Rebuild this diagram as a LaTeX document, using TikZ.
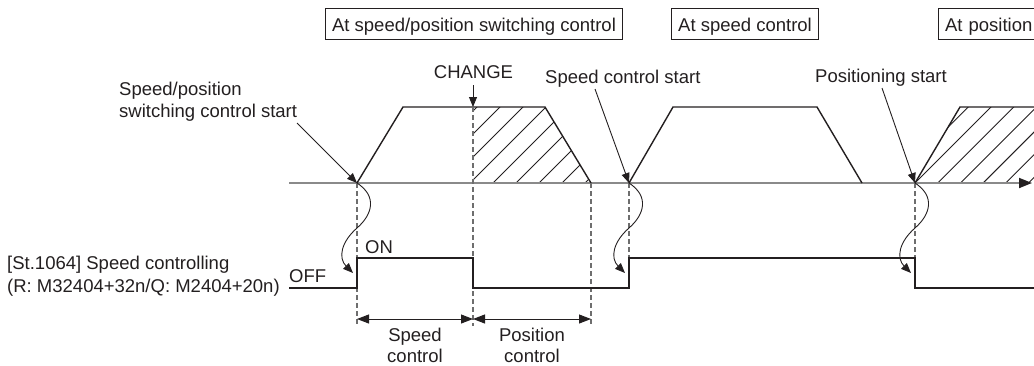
\documentclass[tikz,border=0pt]{standalone}
\usepackage{fontspec}
\setmainfont{Liberation Sans}
\usetikzlibrary{arrows.meta}
\definecolor{ink}{HTML}{231F20}
\definecolor{axisgray}{HTML}{8A8A8A}
\definecolor{dashgray}{HTML}{6E6E6E}
\begin{document}
\begin{tikzpicture}[x=1pt,y=-1pt,
  font=\fontsize{18.5}{22}\selectfont,
  lbl/.style={inner sep=0pt, text=ink, anchor=base west},
  lblc/.style={inner sep=0pt, text=ink, anchor=base},
  ctrlbox/.style={draw=ink, line width=1pt, text=ink, inner xsep=6.5pt, inner ysep=0pt,
    text height=23.7pt, text depth=7.3pt},
  wave/.style={draw=ink, line width=1.4pt, line join=miter},
  hatchline/.style={draw=ink, line width=0.9pt},
  guide/.style={draw=dashgray, line width=1.2pt, dash pattern=on 5pt off 3pt},
  axisline/.style={draw=axisgray, line width=1.8pt, -{Triangle[length=13pt,width=10pt,color=ink]}},
  pointer/.style={draw=ink, line width=0.9pt, -{Triangle[length=10pt,width=8pt]}},
  dimarrow/.style={draw=ink, line width=1pt, {Triangle[length=12pt,width=9pt]}-{Triangle[length=12pt,width=9pt]}}
]
\useasboundingbox (0,0) rectangle (1034,365);
\clip (0,0) rectangle (1034,365);

% header boxes
\node[ctrlbox, anchor=base] (b1) at (474,31.7) {At speed/position switching control};
\node[ctrlbox, anchor=base] (b2) at (745,31.7) {At speed control};
\node[ctrlbox, anchor=base west, text width=110pt, align=left] (b3) at (938,31.7) {At position};

% labels
\node[lbl] (lsp1) at (119,95) {Speed/position};
\node[lbl] (lsp2) at (119,117) {switching control start};
\node[lblc] (lchg) at (473.5,78.3) {CHANGE};
\node[lbl] (lscs) at (545,83) {Speed control start};
\node[lblc] (lpos) at (881,82.7) {Positioning start};
\node[lbl] (lst1) at (7,269.5) {[St.1064] Speed controlling};
\node[lbl] (lst2) at (7,292.5) {(R: M32404+32n/Q: M2404+20n)};
\node[lbl] (loff) at (289,282) {OFF};
\node[lbl] (lon) at (365,253) {ON};
\node[lblc] (lsc1) at (415,341.5) {Speed};
\node[lblc] (lsc2) at (415,362.5) {control};
\node[lblc] (lpc1) at (532,341.5) {Position};
\node[lblc] (lpc2) at (532,362.5) {control};

% key coordinates
\coordinate (ax0) at (289,183);
\coordinate (ax1) at (1032,183);
\coordinate (s1) at (357,183);
\coordinate (s2) at (629,183);
\coordinate (s3) at (915,183);
\coordinate (chtop) at (473,107);

% hatch areas
\begin{scope}
  \clip (473,183) -- (473,107) -- (545,107) -- (591,183) -- cycle;
  \foreach \c in {584,607,...,775} {
    \draw[hatchline] (\c-200,200) -- (\c-90,90);
  }
\end{scope}
\begin{scope}
  \clip (915,183) -- (960,107) -- (1040,107) -- (1040,183) -- cycle;
  \foreach \k in {0,...,6} {
    \pgfmathsetmacro{\c}{1075.3+22.7*\k}
    \draw[hatchline] (\c-200,200) -- (\c-90,90);
  }
\end{scope}

% axis
\draw[axisline] (ax0) -- (ax1);

% speed profiles
\draw[wave] (s1) -- (403,107) -- (545,107) -- (591,183);
\draw[wave] (s2) -- (673,107) -- (817,107) -- (862,183);
\draw[wave] (s3) -- (960,107) -- (1040,107);

% guide lines
\draw[guide] (s1) -- (357,326);
\draw[guide] (chtop) -- (473,326);
\draw[guide] (591,183) -- (591,326);
\draw[guide] (s2) -- (629,258);
\draw[guide] (s3) -- (915,258);

% signal
\draw[wave] (289,288) -- (357,288) -- (357,258) -- (473,258) -- (473,288) -- (629,288)
  -- (629,258) -- (915,258) -- (915,288) -- (1040,288);

% pointers
\coordinate (p1) at (297,123);
\coordinate (p2) at (595,89);
\coordinate (p3) at (882,88);
\coordinate (p4) at (473,85);
\draw[pointer] (p1) -- (s1);
\draw[pointer] (p2) -- (s2);
\draw[pointer] (p3) -- (s3);
\draw[pointer] (p4) -- (chtop);

% S-curves
\draw[pointer] (s1) .. controls (377,196) and (373,214) .. (357,228)
  .. controls (341,242) and (338,258) .. (353,273);
\draw[pointer] (s2) .. controls (649,196) and (645,214) .. (629,228)
  .. controls (613,242) and (610,258) .. (625,273);
\draw[pointer] (s3) .. controls (935,196) and (931,214) .. (915,228)
  .. controls (899,242) and (896,258) .. (911,273);

% dimension arrows
\coordinate (d1) at (357,319);
\coordinate (d2) at (473,319);
\coordinate (d3) at (591,319);
\draw[dimarrow] (d1) -- (d2);
\draw[dimarrow] (d2) -- (d3);
\end{tikzpicture}
\end{document}
